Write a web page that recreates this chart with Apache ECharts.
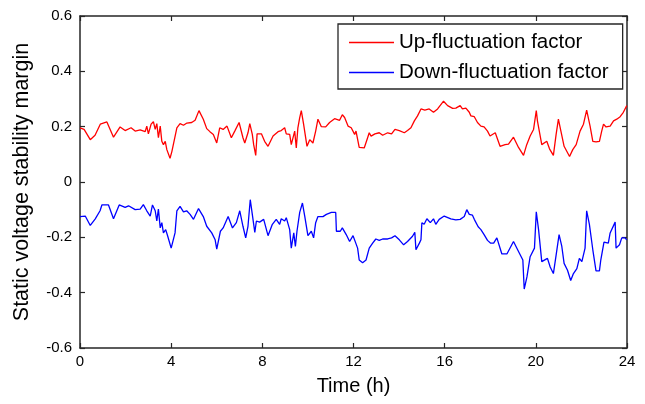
<!DOCTYPE html>
<html>
<head>
<meta charset="utf-8">
<script src="https://cdn.jsdelivr.net/npm/echarts@6/dist/echarts.min.js"></script>
<style>html,body{margin:0;padding:0;background:#fff}#c{width:645px;height:404px}</style>
</head>
<body>
<div id="c"></div>
<script>
var xTicks = [0, 4, 8, 12, 16, 20, 24];
var yTicks = [-0.6, -0.4, -0.2, 0, 0.2, 0.4, 0.6];
var seriesNames = ['Up-fluctuation factor', 'Down-fluctuation factor'];

var upTime = [0.00,0.18,0.45,0.66,0.89,1.18,1.25,1.47,1.76,1.98,2.24,2.42,2.64,2.86,2.93,3.00,3.12,3.22,3.30,3.37,3.44,3.52,3.59,3.66,3.74,3.81,3.88,3.95,4.03,4.25,4.39,4.54,4.69,4.90,5.05,5.22,5.41,5.56,5.70,5.85,6.00,
6.13,6.28,6.45,6.64,6.79,6.98,7.15,7.23,7.37,7.45,7.56,7.62,7.71,7.77,7.96,8.10,8.25,8.47,8.69,8.83,8.98,9.05,9.20,9.27,9.42,9.49,9.56,9.64,9.71,9.81,9.96,10.08,10.22,10.34,10.44,10.59,10.78,10.95,11.17,11.39,11.51,11.61,11.76,11.90,12.05,
12.11,12.25,12.47,12.62,12.69,12.77,12.94,13.13,13.28,13.50,13.67,13.82,14.01,14.23,14.37,14.52,14.67,14.81,14.96,15.13,15.32,15.51,15.69,15.95,16.13,16.35,16.49,16.68,16.78,16.93,17.08,17.15,17.30,17.44,17.59,17.73,17.88,17.99,
18.22,18.43,18.65,18.80,19.02,19.24,19.46,19.60,19.75,19.90,20.02,20.07,20.26,20.48,20.60,20.77,20.89,20.99,21.10,21.24,21.48,21.62,21.77,21.94,22.09,22.23,22.38,22.50,22.64,22.79,22.89,22.97,23.08,23.26,23.41,23.55,23.70,23.84,23.99];
var upVal = [0.196,0.190,0.153,0.169,0.209,0.217,0.215,0.162,0.199,0.186,0.196,0.184,0.188,0.182,0.202,0.174,0.209,0.218,0.190,0.211,0.160,0.202,0.147,0.135,0.147,0.117,0.123,0.086,0.110,0.196,0.211,0.205,0.213,0.215,0.223,0.258,0.227,0.193,0.182,0.172,0.141,
0.196,0.190,0.202,0.160,0.184,0.215,0.160,0.141,0.178,0.211,0.172,0.135,0.096,0.174,0.174,0.147,0.129,0.166,0.182,0.186,0.196,0.174,0.172,0.135,0.184,0.123,0.196,0.233,0.258,0.209,0.129,0.153,0.141,0.184,0.227,0.200,0.199,0.215,0.229,0.223,0.243,0.233,0.202,0.196,0.172,
0.184,0.125,0.123,0.160,0.178,0.166,0.174,0.178,0.169,0.178,0.174,0.190,0.186,0.178,0.186,0.196,0.221,0.239,0.264,0.260,0.264,0.252,0.264,0.292,0.276,0.266,0.267,0.276,0.264,0.267,0.252,0.239,0.236,0.215,0.202,0.199,0.184,0.166,
0.178,0.129,0.135,0.137,0.162,0.125,0.096,0.135,0.166,0.190,0.258,0.221,0.135,0.147,0.120,0.096,0.172,0.227,0.184,0.129,0.092,0.117,0.135,0.184,0.209,0.260,0.202,0.147,0.145,0.147,0.184,0.209,0.199,0.202,0.221,0.227,0.236,0.252,0.276];

var downTime = [0.00,0.23,0.45,0.67,0.88,0.96,1.25,1.47,1.72,1.98,2.13,2.42,2.64,2.78,2.93,3.08,3.18,3.30,3.37,3.44,3.52,3.59,3.66,3.76,3.85,4.00,4.17,4.25,4.39,4.54,4.68,4.83,4.98,5.20,5.41,5.56,5.78,5.93,6.00,
6.16,6.28,6.50,6.69,6.86,7.01,7.15,7.27,7.37,7.47,7.56,7.67,7.74,7.88,8.06,8.25,8.44,8.61,8.76,8.83,8.98,9.05,9.20,9.27,9.38,9.45,9.52,9.64,9.76,9.86,10.00,10.15,10.25,10.34,10.44,10.66,10.81,11.03,11.22,11.25,11.42,11.51,11.68,11.83,11.98,12.10,
12.18,12.25,12.40,12.55,12.69,12.84,12.98,13.13,13.28,13.50,13.67,13.82,14.01,14.20,14.37,14.59,14.69,14.74,14.89,14.96,15.00,15.10,15.22,15.37,15.51,15.61,15.76,15.98,16.05,16.27,16.49,16.68,16.86,16.97,17.08,17.22,17.30,17.47,17.59,17.73,17.88,18.02,
18.15,18.29,18.51,18.73,19.02,19.24,19.43,19.49,19.61,19.75,19.94,20.02,20.12,20.26,20.51,20.63,20.77,20.89,21.02,21.14,21.24,21.39,21.53,21.65,21.80,21.91,22.02,22.16,22.23,22.35,22.50,22.64,22.79,22.85,22.99,23.18,23.26,23.48,23.52,23.67,23.77,23.91,23.99];
var downVal = [-0.125,-0.123,-0.157,-0.133,-0.104,-0.083,-0.083,-0.133,-0.083,-0.092,-0.086,-0.100,-0.098,-0.082,-0.104,-0.123,-0.083,-0.104,-0.141,-0.098,-0.166,-0.147,-0.184,-0.172,-0.196,-0.239,-0.184,-0.104,-0.088,-0.108,-0.104,-0.117,-0.135,-0.096,-0.125,-0.160,-0.184,-0.209,-0.243,
-0.178,-0.166,-0.125,-0.166,-0.147,-0.104,-0.160,-0.202,-0.160,-0.064,-0.117,-0.182,-0.141,-0.145,-0.135,-0.194,-0.153,-0.135,-0.153,-0.133,-0.141,-0.129,-0.172,-0.239,-0.184,-0.233,-0.178,-0.110,-0.076,-0.123,-0.194,-0.178,-0.202,-0.147,-0.125,-0.125,-0.117,-0.110,-0.110,-0.178,-0.178,-0.166,-0.190,-0.215,-0.194,-0.221,
-0.239,-0.282,-0.292,-0.282,-0.239,-0.221,-0.206,-0.211,-0.206,-0.206,-0.202,-0.194,-0.209,-0.227,-0.215,-0.196,-0.182,-0.245,-0.221,-0.209,-0.147,-0.153,-0.133,-0.147,-0.133,-0.153,-0.135,-0.123,-0.117,-0.133,-0.137,-0.135,-0.125,-0.100,-0.117,-0.120,-0.135,-0.162,-0.172,-0.190,-0.211,-0.221,
-0.221,-0.202,-0.260,-0.260,-0.215,-0.251,-0.282,-0.387,-0.343,-0.270,-0.239,-0.108,-0.172,-0.288,-0.276,-0.307,-0.331,-0.264,-0.190,-0.233,-0.294,-0.319,-0.356,-0.331,-0.313,-0.276,-0.288,-0.239,-0.104,-0.153,-0.245,-0.321,-0.321,-0.282,-0.217,-0.221,-0.184,-0.145,-0.239,-0.227,-0.202,-0.202,-0.209];

function pairs(t, v) { return t.map(function (x, i) { return [x, v[i]]; }); }

var FONT = '"Liberation Sans", Arial, sans-serif';
var AX = '#262626';
var chart = echarts.init(document.getElementById('c'), null, {renderer: 'canvas'});

function fmtY(v) {
  var r = Math.round(v * 10) / 10;
  return r === 0 ? '0' : r.toFixed(1);
}

var baseX = {
  type: 'value', min: xTicks[0], max: xTicks[xTicks.length - 1], interval: 4,
  axisLine: {show: true, onZero: false, lineStyle: {color: AX, width: 1.5}},
  axisTick: {show: true, inside: true, length: 5, lineStyle: {color: AX, width: 1.2}},
  splitLine: {show: false}
};
var baseY = {
  type: 'value', min: yTicks[0], max: yTicks[yTicks.length - 1], interval: 0.2,
  axisLine: {show: true, onZero: false, lineStyle: {color: AX, width: 1.5}},
  axisTick: {show: true, inside: true, length: 5, lineStyle: {color: AX, width: 1.2}},
  splitLine: {show: false}
};

var option = {
  animation: false,
  backgroundColor: '#fff',
  grid: {left: 80, right: 18, top: 16, bottom: 56, containLabel: false},
  legend: {
    data: seriesNames,
    orient: 'vertical',
    left: 338, top: 24,
    backgroundColor: '#fff',
    borderColor: AX, borderWidth: 1.3, borderRadius: 0,
    padding: [8, 14, 6, 11],
    itemGap: 9,
    itemWidth: 45, itemHeight: 1.5,
    icon: 'rect',
    textStyle: {fontFamily: FONT, fontSize: 20.5, color: '#000', lineHeight: 19}
  },
  xAxis: [
    Object.assign({}, baseX, {
      position: 'bottom',
      name: 'Time (h)', nameLocation: 'middle', nameGap: 28,
      nameTextStyle: {fontFamily: FONT, fontSize: 20, color: '#000'},
      axisLabel: {show: true, margin: 6, fontFamily: FONT, fontSize: 15, color: '#000'}
    }),
    Object.assign({}, baseX, {position: 'top', axisLabel: {show: false}})
  ],
  yAxis: [
    Object.assign({}, baseY, {
      position: 'left',
      name: 'Static voltage stability margin', nameLocation: 'middle', nameGap: 47,
      nameTextStyle: {fontFamily: FONT, fontSize: 21.5, color: '#000'},
      axisLabel: {show: true, margin: 8, fontFamily: FONT, fontSize: 15, color: '#000', formatter: fmtY}
    }),
    Object.assign({}, baseY, {position: 'right', axisLabel: {show: false}})
  ],
  series: [
    {
      name: seriesNames[0], type: 'line', xAxisIndex: 0, yAxisIndex: 0,
      data: pairs(upTime, upVal), showSymbol: false, symbol: 'none',
      lineStyle: {color: '#ff0000', width: 1.3}, itemStyle: {color: '#ff0000'}
    },
    {
      name: seriesNames[1], type: 'line', xAxisIndex: 0, yAxisIndex: 0,
      data: pairs(downTime, downVal), showSymbol: false, symbol: 'none',
      lineStyle: {color: '#0000ff', width: 1.3}, itemStyle: {color: '#0000ff'}
    }
  ]
};
chart.setOption(option);
</script>
</body>
</html>
